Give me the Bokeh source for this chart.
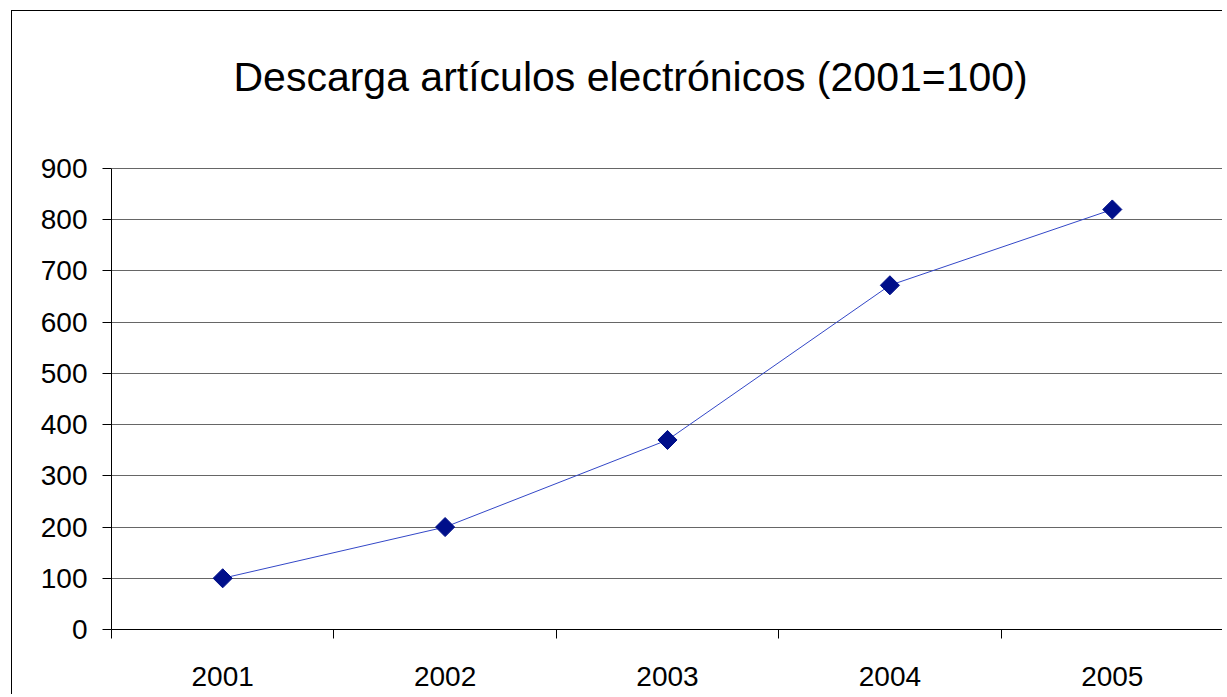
import numpy as np
from bokeh.plotting import figure
from bokeh.models import FixedTicker, Range1d, Label
from bokeh.embed import file_html
from bokeh.resources import INLINE

# ---- data ----
years = ["2001", "2002", "2003", "2004", "2005"]
values = [100, 200, 370, 672, 820]
y_ticks = [0, 100, 200, 300, 400, 500, 600, 700, 800, 900]
title_text = "Descarga artículos electrónicos (2001=100)"

x_pos = [i + 0.5 for i in range(len(years))]
x_bounds = list(range(len(years) + 1))
y_max = y_ticks[-1]

FONT = "Liberation Sans"

# layout geometry (pixels inside the canvas)
canvas_top = 11
plot_top = 168
plot_bottom = 629
y_top = y_max * (plot_bottom - canvas_top) / (plot_bottom - plot_top)

p = figure(width=1211, height=684, output_backend="svg", toolbar_location=None,
           x_range=Range1d(0, len(years)), y_range=Range1d(0, y_top),
           min_border_left=99, min_border_right=0, min_border_top=0,
           min_border_bottom=66, margin=(10, 0, 0, 11), title=None)
p.styles = {"border-left": "1px solid black", "border-top": "1px solid black"}

title = Label(x=0, y=y_max, x_units="data", y_units="data",
              x_offset=122, y_offset=92, text=title_text,
              text_font=FONT, text_font_size="41px", text_color="black",
              text_align="left", text_baseline="alphabetic")
p.add_layout(title)

p.outline_line_color = None
p.background_fill_color = "white"
p.border_fill_color = "white"

# y axis
p.yaxis.ticker = FixedTicker(ticks=y_ticks)
p.yaxis.bounds = (0, y_max)
p.yaxis.major_tick_out = 9
p.yaxis.major_tick_in = 0
p.yaxis.minor_tick_out = 0
p.yaxis.minor_tick_in = 0
p.yaxis.major_label_standoff = 15
p.yaxis.major_label_text_font = FONT
p.yaxis.major_label_text_font_size = "28px"
p.yaxis.major_label_text_color = "black"
p.yaxis.axis_line_color = "black"
p.yaxis.major_tick_line_color = "black"

# x axis
p.xaxis.ticker = FixedTicker(ticks=x_pos, minor_ticks=x_bounds)
p.xaxis.major_label_overrides = {x: y for x, y in zip(x_pos, years)}
p.xaxis.major_tick_out = 0
p.xaxis.major_tick_in = 0
p.xaxis.minor_tick_out = 9
p.xaxis.minor_tick_in = 0
p.xaxis.minor_tick_line_color = "black"
p.xaxis.major_label_standoff = 28
p.xaxis.major_label_text_font = FONT
p.xaxis.major_label_text_font_size = "28px"
p.xaxis.major_label_text_color = "black"
p.xaxis.axis_line_color = "black"

p.xgrid.visible = False
p.ygrid.ticker = FixedTicker(ticks=y_ticks)
p.ygrid.grid_line_color = "#666666"
p.ygrid.grid_line_width = 1

# right edge of the plot area
p.segment(x0=[len(years)], y0=[0], x1=[len(years)], y1=[y_max],
          line_color="#9a9a9a", line_width=1.5)

p.line(x_pos, values, line_color="#3347c7", line_width=1)
p.scatter(x_pos, values, marker="square", angle=np.pi / 4, size=13.5,
          fill_color="#000f8a", line_color="#000f8a")

open("out.html", "w").write(file_html(p, INLINE))
